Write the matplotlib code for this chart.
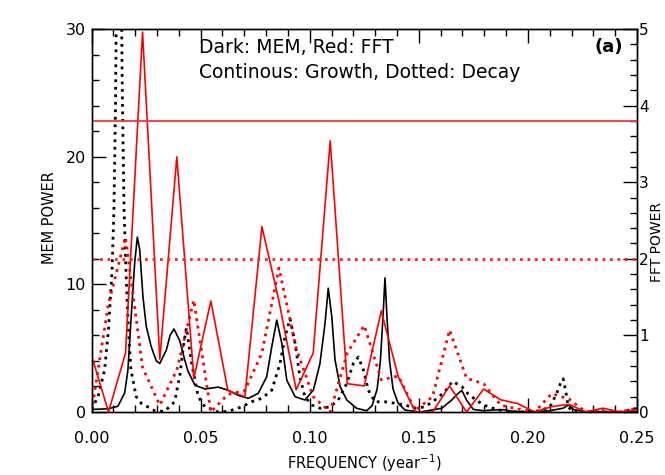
import matplotlib
matplotlib.use("Agg")
import matplotlib.pyplot as plt
from matplotlib.ticker import MultipleLocator

# ---------------- data ----------------
# MEM growth (black solid), left axis
mem_growth_freq = [0.0000, 0.0076, 0.0121, 0.0152, 0.0167, 0.0182, 0.0198, 0.0210, 0.0221, 0.0236,
                   0.0251, 0.0274, 0.0297, 0.0313, 0.0343, 0.0360, 0.0378, 0.0404, 0.0427, 0.0442,
                   0.0474, 0.0520, 0.0581, 0.0627, 0.0673, 0.0719, 0.0764, 0.0803, 0.0826, 0.0849,
                   0.0872, 0.0895, 0.0933, 0.0978, 0.1017, 0.1047, 0.1070, 0.1085, 0.1101, 0.1116,
                   0.1139, 0.1170, 0.1215, 0.1261, 0.1286, 0.1309, 0.1324, 0.1336, 0.1345, 0.1354,
                   0.1366, 0.1382, 0.1405, 0.1437, 0.1505, 0.1605, 0.1651, 0.1674, 0.1697, 0.1720,
                   0.1750, 0.1796, 0.1841, 0.1887, 0.1933, 0.2010, 0.2101, 0.2162, 0.2185, 0.2208,
                   0.2262, 0.2500]
mem_growth_power = [0.2, 0.25, 0.45, 1.5, 3.3, 7.5, 11.7, 13.7, 12.7, 9.0,
                    6.7, 5.1, 4.0, 3.8, 4.85, 6.0, 6.5, 5.6, 4.1, 3.2,
                    2.1, 1.8, 1.95, 1.7, 1.3, 1.07, 1.46, 2.76, 5.1, 7.2,
                    5.4, 2.5, 1.2, 0.94, 1.72, 3.8, 6.9, 9.7, 7.5, 4.1,
                    2.0, 0.94, 0.29, 0.1, 0.5, 1.8, 4.0, 7.5, 10.5, 7.5,
                    4.0, 1.8, 0.7, 0.15, 0.0, 0.29, 0.94, 1.35, 1.7, 0.9,
                    0.2, 0.1, 0.16, 0.18, 0.05, 0.0, 0.1, 0.3, 0.55, 0.2,
                    0.02, 0.0]

# MEM decay (black dotted), left axis
mem_decay_freq = [0.0000, 0.0030, 0.0060, 0.0078, 0.0094, 0.0103, 0.0110, 0.0114, 0.0126, 0.0137,
                  0.0142, 0.0149, 0.0158, 0.0169, 0.0181, 0.0205, 0.0228, 0.0290, 0.0335, 0.0381,
                  0.0406, 0.0424, 0.0435, 0.0459, 0.0489, 0.0520, 0.0581, 0.0627, 0.0688, 0.0734,
                  0.0780, 0.0826, 0.0864, 0.0887, 0.0910, 0.0933, 0.0955, 0.0978, 0.1009, 0.1047,
                  0.1093, 0.1131, 0.1170, 0.1200, 0.1223, 0.1246, 0.1269, 0.1299, 0.1345, 0.1391,
                  0.1437, 0.1482, 0.1528, 0.1574, 0.1620, 0.1654, 0.1697, 0.1727, 0.1758, 0.1796,
                  0.1841, 0.1887, 0.1964, 0.2055, 0.2101, 0.2132, 0.2155, 0.2162, 0.2175, 0.2185,
                  0.2208, 0.2422, 0.2482, 0.2500]
mem_decay_power = [0.2, 1.2, 3.3, 6.5, 11.0, 16.0, 24.0, 32.0, 90.0, 32.0,
                   24.0, 16.0, 11.0, 6.5, 3.3, 1.2, 0.68, 0.1, 0.05, 0.8,
                   3.0, 5.5, 6.6, 3.8, 1.2, 0.4, 0.0, 0.05, 0.4, 0.8,
                   1.07, 1.7, 3.8, 5.9, 7.3, 5.4, 2.76, 1.2, 0.55, 0.29,
                   0.4, 0.94, 2.25, 3.8, 4.3, 3.3, 1.7, 0.8, 0.8, 0.68,
                   0.55, 0.3, 0.4, 0.94, 1.6, 2.4, 2.0, 1.4, 1.0, 0.55,
                   0.29, 0.08, 0.0, 0.1, 0.4, 1.46, 2.5, 2.6, 1.46, 0.4,
                   0.0, 0.0, 0.2, 0.3]

# FFT spectra (red), right axis
fft_freq = [0.0000, 0.0078, 0.0156, 0.0234, 0.0313, 0.0391, 0.0469, 0.0547, 0.0625, 0.0703,
            0.0781, 0.0859, 0.0938, 0.1016, 0.1094, 0.1172, 0.1250, 0.1328, 0.1406, 0.1484,
            0.1563, 0.1641, 0.1719, 0.1797, 0.1875, 0.1953, 0.2031, 0.2109, 0.2188, 0.2266,
            0.2344, 0.2422, 0.2500]
fft_growth = [0.74, 0.0, 0.77, 4.96, 0.69, 3.33, 0.44, 1.45, 0.28, 0.20,
              2.42, 1.45, 0.29, 0.77, 3.54, 0.37, 0.34, 1.32, 0.46, 0.0,
              0.0, 0.34, 0.0, 0.30, 0.16, 0.11, 0.0, 0.07, 0.10, 0.0,
              0.05, 0.0, 0.03]
fft_decay = [0.0, 1.42, 2.28, 0.58, 0.09, 0.55, 1.46, 0.0, 0.23, 0.28,
             0.77, 1.88, 0.83, 0.20, 0.0, 0.77, 1.13, 0.42, 0.47, 0.02,
             0.20, 1.07, 0.44, 0.37, 0.09, 0.04, 0.0, 0.24, 0.17, 0.0,
             0.02, 0.0, 0.05]

# significance levels (right axis)
sig_solid = 3.8
sig_dotted = 2.0

title_lines = ["Dark: MEM, Red: FFT", "Continous: Growth, Dotted: Decay"]
panel_label = "(a)"

# ---------------- plot ----------------
plt.rcParams['font.family'] = ['DejaVu Sans']
W, H = 665, 475
fig = plt.figure(figsize=(W / 100, H / 100), dpi=100)
ax = fig.add_axes([91.5 / W, 63 / H, (637 - 91.5) / W, (412 - 29) / H])
ax2 = ax.twinx()

dot = (0, (1, 1.7))
ax.plot(mem_growth_freq, mem_growth_power, color='black', lw=1.2, zorder=3)
ax.plot(mem_decay_freq, mem_decay_power, color='black', lw=2.0, linestyle=dot, zorder=3)

ax2.plot(fft_freq, fft_growth, color='#ff0000', lw=1.2)
ax2.plot(fft_freq, fft_decay, color='#ff0000', lw=2.0, linestyle=dot)
ax2.axhline(sig_solid, color='#ff3333', lw=1.3)
ax2.axhline(sig_dotted, color='#ff2222', lw=2.0, linestyle=dot)

ax.set_xlim(0, 0.25)
ax.set_ylim(0, 30)
ax2.set_ylim(0, 5)

ax.xaxis.set_major_locator(MultipleLocator(0.05))
ax.xaxis.set_minor_locator(MultipleLocator(0.01))
ax.yaxis.set_major_locator(MultipleLocator(10))
ax.yaxis.set_minor_locator(MultipleLocator(2))
ax2.yaxis.set_major_locator(MultipleLocator(1))
ax2.yaxis.set_minor_locator(MultipleLocator(0.2))

ax.xaxis.set_major_formatter(plt.FuncFormatter(lambda v, p: f"{v:.2f}"))

ax.tick_params(axis='x', which='both', direction='in', top=True, bottom=True, labelsize=11.5, pad=14)
ax.tick_params(axis='y', which='both', direction='in', left=True, right=False, labelsize=11.5, pad=4)
ax.tick_params(which='major', length=10, width=1)
ax.tick_params(which='minor', length=5, width=1)
ax2.tick_params(axis='y', which='both', direction='in', labelsize=11, pad=1.5)
ax2.tick_params(which='major', length=10, width=1)
ax2.tick_params(which='minor', length=5, width=1)

ax.set_xlabel("FREQUENCY (year$^{-1}$)", fontsize=10.5, labelpad=4)
fig.text(50 / W, 1 - 218 / H, "MEM POWER", rotation=90, fontsize=10.5, ha='center', va='center')
fig.text(657 / W, 1 - 242 / H, "FFT POWER", rotation=90, fontsize=10, ha='center', va='center')

for s in list(ax.spines.values()) + list(ax2.spines.values()):
    s.set_linewidth(1.0)

ax.text(0.197, 0.952, title_lines[0], transform=ax.transAxes, fontsize=13.5, va='center', ha='left')
ax.text(0.197, 0.887, title_lines[1], transform=ax.transAxes, fontsize=13.5, va='center', ha='left')
ax.text(0.975, 0.952, panel_label, transform=ax.transAxes, fontsize=13, fontweight='bold',
        va='center', ha='right')

fig.savefig("out.png", dpi=100)
